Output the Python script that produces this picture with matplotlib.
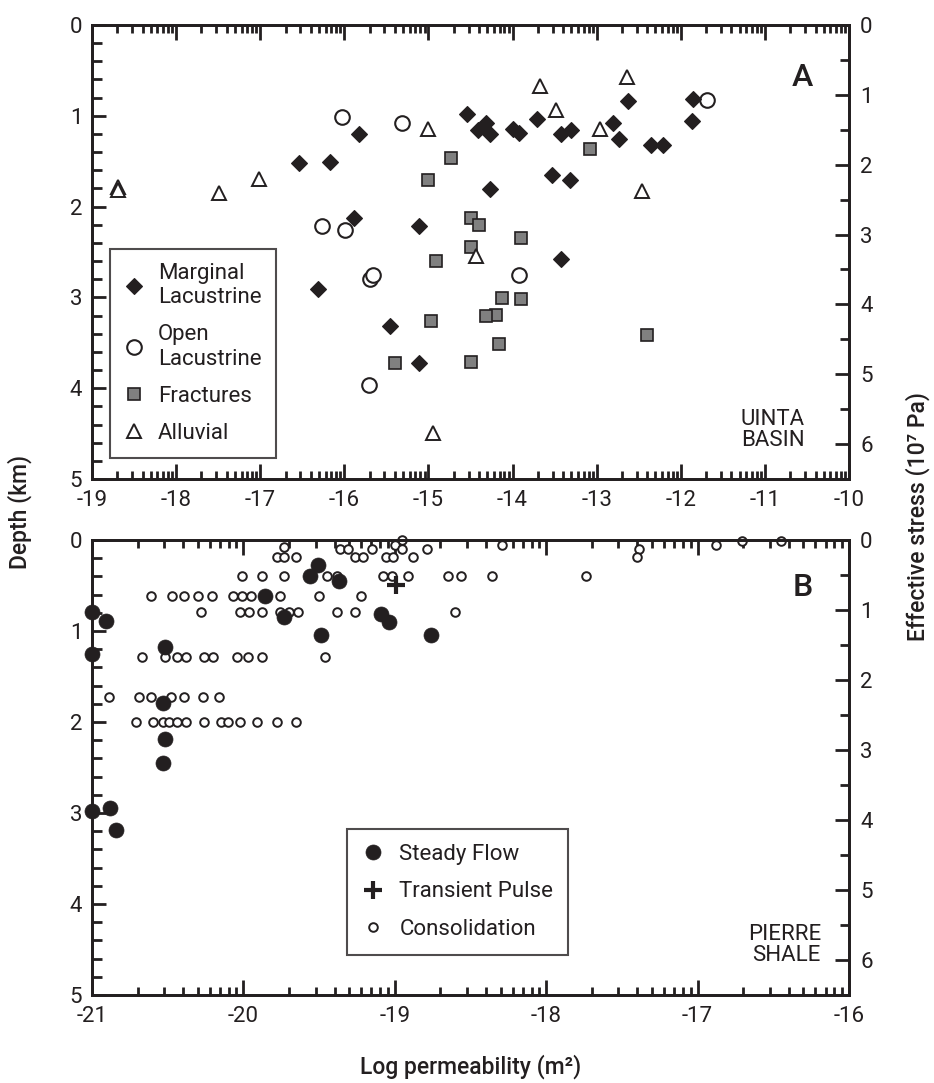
import numpy as np
import matplotlib
matplotlib.use("Agg")
import matplotlib.pyplot as plt
from matplotlib.lines import Line2D
from matplotlib.ticker import FixedLocator, MultipleLocator

plt.rcParams["font.family"] = ["Roboto", "DejaVu Sans"]
plt.rcParams["axes.unicode_minus"] = False

INK = "#231f20"
GREY = "#808080"
STRESS_PER_KM = 1.3   # effective stress (1e7 Pa) per km of depth
FS = 16

# ---- panel A: Uinta Basin (log k, depth km)
marg_x = [-16.54, -16.17, -15.83, -14.54, -14.41, -14.31, -14.27, -14.27, -15.89, -15.11,
          -13.99, -13.92, -13.71, -13.42, -13.31, -12.81, -12.63, -12.73, -12.36, -12.21,
          -11.86, -11.87, -13.53, -13.32, -13.42, -16.31, -15.46, -15.11]
marg_d = [1.52, 1.51, 1.20, 0.98, 1.16, 1.08, 1.20, 1.81, 2.13, 2.21,
          1.14, 1.19, 1.03, 1.20, 1.16, 1.08, 0.84, 1.26, 1.32, 1.32,
          0.81, 1.06, 1.65, 1.71, 2.58, 2.91, 3.31, 3.72]
open_x = [-16.03, -15.32, -16.27, -15.99, -15.69, -15.66, -15.71, -13.92, -11.69]
open_d = [1.01, 1.08, 2.21, 2.26, 2.80, 2.75, 3.96, 2.75, 0.83]
frac_x = [-14.73, -15.01, -14.49, -14.40, -14.49, -14.91, -13.08, -13.90, -14.13, -13.90,
          -14.20, -14.32, -14.16, -14.97, -15.40, -14.49, -12.40]
frac_d = [1.46, 1.71, 2.13, 2.20, 2.45, 2.60, 1.36, 2.35, 3.01, 3.02,
          3.19, 3.21, 3.51, 3.26, 3.72, 3.71, 3.41]
allu_x = [-18.69, -18.69, -17.49, -17.01, -15.01, -13.67, -13.48, -12.96, -12.64, -12.46,
          -14.43, -14.94]
allu_d = [1.78, 1.82, 1.85, 1.70, 1.15, 0.67, 0.94, 1.14, 0.57, 1.83, 2.54, 4.49]

# ---- panel B: Pierre Shale
steady_x = [-21.0, -20.91, -21.0, -20.52, -20.53, -20.52, -20.53, -21.0, -20.88, -20.84,
            -19.86, -19.73, -19.51, -19.56, -19.37, -19.49, -19.09, -19.04, -18.76]
steady_d = [0.79, 0.89, 1.25, 1.18, 1.79, 2.19, 2.45, 2.98, 2.94, 3.19,
            0.62, 0.84, 0.27, 0.40, 0.45, 1.04, 0.81, 0.90, 1.04]
pulse_x = [-18.99]
pulse_d = [0.49]
cons_x = [-18.95, -16.71, -16.45,
          -19.00, -18.29, -16.88,
          -19.73, -19.36, -19.31, -19.15, -18.95, -18.79, -17.39,
          -19.78, -19.73, -19.65, -19.26, -19.21, -19.06, -19.01, -18.88, -17.40,
          -20.01, -19.88, -19.73, -19.45, -19.38, -19.08, -19.02, -18.91, -18.65, -18.56,
          -18.36, -17.74,
          -20.61, -20.47, -20.39, -20.30, -20.21, -20.07, -20.01, -19.95, -19.76, -19.50,
          -19.22,
          -20.28, -20.02, -19.96, -19.88, -19.76, -19.70, -19.64, -19.38, -19.26, -18.60,
          -20.67, -20.52, -20.44, -20.38, -20.26, -20.20, -20.04, -19.97, -19.88, -19.46,
          -20.89, -20.69, -20.61, -20.48, -20.39, -20.27, -20.16,
          -20.71, -20.60, -20.53, -20.49, -20.44, -20.38, -20.26, -20.15, -20.10, -20.02,
          -19.91, -19.78, -19.65]
cons_d = [0.0, 0.01, 0.01,
          0.05, 0.05, 0.05,
          0.08, 0.10, 0.10, 0.10, 0.10, 0.10, 0.10,
          0.19, 0.19, 0.19, 0.19, 0.19, 0.19, 0.19, 0.19, 0.19,
          0.40, 0.40, 0.40, 0.40, 0.40, 0.40, 0.40, 0.40, 0.40, 0.40, 0.40, 0.40,
          0.62, 0.62, 0.62, 0.62, 0.62, 0.62, 0.62, 0.62, 0.62, 0.62, 0.62,
          0.79, 0.79, 0.79, 0.79, 0.79, 0.79, 0.79, 0.79, 0.79, 0.79,
          1.29, 1.29, 1.29, 1.29, 1.29, 1.29, 1.29, 1.29, 1.29, 1.29,
          1.73, 1.73, 1.73, 1.73, 1.73, 1.73, 1.73,
          2.0, 2.0, 2.0, 2.0, 2.0, 2.0, 2.0, 2.0, 2.0, 2.0, 2.0, 2.0, 2.0]


def log_minor(lo, hi):
    return [n + np.log10(k) for n in range(lo, hi) for k in range(2, 10)]


def style_panel(ax, xlo, xhi):
    ax.set_xlim(xlo, xhi)
    ax.set_ylim(5, 0)
    ax.xaxis.set_major_locator(FixedLocator(list(range(xlo, xhi + 1))))
    ax.xaxis.set_minor_locator(FixedLocator(log_minor(xlo, xhi)))
    ax.set_xticklabels([str(v) for v in range(xlo, xhi + 1)])
    ax.yaxis.set_major_locator(MultipleLocator(1))
    ax.yaxis.set_minor_locator(MultipleLocator(0.2))
    ax.tick_params(which="both", direction="in", width=2, color=INK,
                   labelsize=FS, labelcolor=INK)
    ax.tick_params(axis="x", which="both", top=True, bottom=True, pad=8)
    ax.tick_params(axis="x", which="major", length=11)
    ax.tick_params(axis="x", which="minor", length=6)
    ax.tick_params(axis="y", which="both", left=True, right=False, pad=7)
    ax.tick_params(axis="y", which="major", length=10)
    ax.tick_params(axis="y", which="minor", length=7.5)
    for s in ax.spines.values():
        s.set_linewidth(2)
        s.set_color(INK)
    tw = ax.twinx()
    tw.set_ylim(5 * STRESS_PER_KM, 0)
    tw.yaxis.set_major_locator(MultipleLocator(1))
    tw.yaxis.set_minor_locator(MultipleLocator(0.5))
    tw.tick_params(which="both", direction="in", width=2, color=INK,
                   labelsize=FS, labelcolor=INK, pad=8)
    tw.tick_params(which="major", length=10)
    tw.tick_params(which="minor", length=6.5)
    for s in tw.spines.values():
        s.set_linewidth(2)
        s.set_color(INK)
    return tw


def boxed_legend(ax, handles, labels, anchor, **kw):
    leg = ax.legend(handles, labels, loc="upper left", bbox_to_anchor=anchor,
                    fontsize=FS, frameon=True, fancybox=False, borderaxespad=0,
                    labelcolor=INK, **kw)
    leg.get_frame().set_edgecolor(INK)
    leg.get_frame().set_linewidth(1.5)
    return leg


fig = plt.figure(figsize=(9.34, 10.83), dpi=100)
axA = fig.add_axes([0.0985, 0.5577, 0.8105, 0.4192])
axB = fig.add_axes([0.0985, 0.0813, 0.8105, 0.4200])

# panel A
style_panel(axA, -19, -10)
dia = dict(ls="none", marker="D", ms=8.2, mfc=INK, mec=INK, mew=0.8)
cir = dict(ls="none", marker="o", ms=10.5, mfc="white", mec=INK, mew=1.5)
sq = dict(ls="none", marker="s", ms=9, mfc=GREY, mec=INK, mew=1.2)
tri = dict(ls="none", marker="^", ms=10, mfc="white", mec=INK, mew=1.4)
axA.plot(frac_x, frac_d, **sq)
axA.plot(allu_x, allu_d, **tri)
axA.plot(open_x, open_d, **cir)
axA.plot(marg_x, marg_d, **dia)
axA.text(0.939, 0.885, "A", transform=axA.transAxes, ha="center", va="center",
         fontsize=23, color=INK, fontweight="medium")
axA.text(0.941, 0.108, "UINTA\nBASIN", transform=axA.transAxes, ha="right",
         va="center", fontsize=FS, color=INK, linespacing=1.0)
hA = [Line2D([], [], **dia), Line2D([], [], **cir), Line2D([], [], **sq),
      Line2D([], [], **tri)]
boxed_legend(axA, hA, ["Marginal\nLacustrine", "Open\nLacustrine", "Fractures", "Alluvial"],
             (0.024, 0.507), borderpad=0.65, labelspacing=0.72, handlelength=0.8,
             handletextpad=0.7)

# panel B
style_panel(axB, -21, -16)
fil = dict(ls="none", marker="o", ms=10.8, mfc=INK, mec=INK, mew=0.5)
plus = dict(ls="none", marker="+", ms=13, mec=INK, mew=3)
small = dict(ls="none", marker="o", ms=6.2, mfc="white", mec=INK, mew=1.4)
axB.plot(cons_x, cons_d, clip_on=False, **small)
axB.plot(steady_x, steady_d, clip_on=False, **fil)
axB.plot(pulse_x, pulse_d, **plus)
axB.text(0.939, 0.896, "B", transform=axB.transAxes, ha="center", va="center",
         fontsize=23, color=INK, fontweight="medium")
axB.text(0.963, 0.11, "PIERRE\nSHALE", transform=axB.transAxes, ha="right",
         va="center", fontsize=FS, color=INK, linespacing=1.0)
hB = [Line2D([], [], **fil), Line2D([], [], **plus), Line2D([], [], **small)]
boxed_legend(axB, hB, ["Steady Flow", "Transient Pulse", "Consolidation"],
             (0.337, 0.364), borderpad=0.65, labelspacing=0.75, handlelength=1.0,
             handletextpad=0.7)

fig.text(0.021, 0.527, "Depth (km)", rotation=90, ha="center", va="center",
         fontsize=FS + 0.5, color=INK, fontweight="medium")
fig.text(0.982, 0.523, "Effective stress (10\u2077 Pa)", rotation=90, ha="center",
         va="center", fontsize=FS + 0.5, color=INK, fontweight="medium")
fig.text(0.504, 0.015, "Log permeability (m\u00b2)", ha="center", va="center",
         fontsize=FS + 0.5, color=INK, fontweight="medium")

fig.savefig("out.png", dpi=100)
